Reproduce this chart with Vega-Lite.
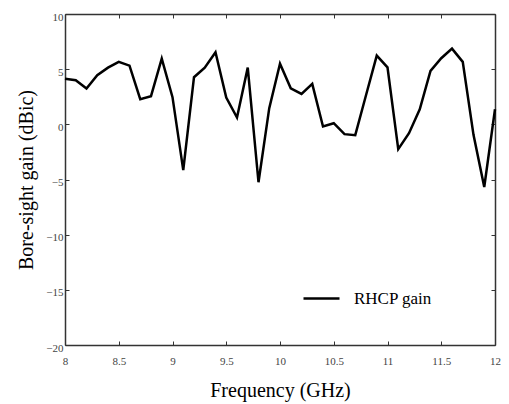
{
  "$schema": "https://vega.github.io/schema/vega-lite/v6.json",
  "width": 430,
  "height": 331,
  "autosize": "none",
  "padding": {"left": 65, "top": 14, "right": 14, "bottom": 59},
  "background": "white",
  "data": {"values": [
    {"f": 8.0, "g": 4.14, "s": "RHCP gain"},
    {"f": 8.1, "g": 4.0, "s": "RHCP gain"},
    {"f": 8.2, "g": 3.24, "s": "RHCP gain"},
    {"f": 8.3, "g": 4.45, "s": "RHCP gain"},
    {"f": 8.4, "g": 5.14, "s": "RHCP gain"},
    {"f": 8.5, "g": 5.66, "s": "RHCP gain"},
    {"f": 8.6, "g": 5.32, "s": "RHCP gain"},
    {"f": 8.7, "g": 2.28, "s": "RHCP gain"},
    {"f": 8.8, "g": 2.55, "s": "RHCP gain"},
    {"f": 8.9, "g": 5.95, "s": "RHCP gain"},
    {"f": 9.0, "g": 2.46, "s": "RHCP gain"},
    {"f": 9.1, "g": -4.15, "s": "RHCP gain"},
    {"f": 9.2, "g": 4.27, "s": "RHCP gain"},
    {"f": 9.3, "g": 5.14, "s": "RHCP gain"},
    {"f": 9.4, "g": 6.53, "s": "RHCP gain"},
    {"f": 9.5, "g": 2.43, "s": "RHCP gain"},
    {"f": 9.6, "g": 0.62, "s": "RHCP gain"},
    {"f": 9.7, "g": 5.14, "s": "RHCP gain"},
    {"f": 9.8, "g": -5.25, "s": "RHCP gain"},
    {"f": 9.9, "g": 1.47, "s": "RHCP gain"},
    {"f": 10.0, "g": 5.5, "s": "RHCP gain"},
    {"f": 10.1, "g": 3.27, "s": "RHCP gain"},
    {"f": 10.2, "g": 2.76, "s": "RHCP gain"},
    {"f": 10.3, "g": 3.67, "s": "RHCP gain"},
    {"f": 10.4, "g": -0.2, "s": "RHCP gain"},
    {"f": 10.5, "g": 0.1, "s": "RHCP gain"},
    {"f": 10.6, "g": -0.89, "s": "RHCP gain"},
    {"f": 10.7, "g": -0.98, "s": "RHCP gain"},
    {"f": 10.8, "g": 2.64, "s": "RHCP gain"},
    {"f": 10.9, "g": 6.23, "s": "RHCP gain"},
    {"f": 11.0, "g": 5.17, "s": "RHCP gain"},
    {"f": 11.1, "g": -2.25, "s": "RHCP gain"},
    {"f": 11.2, "g": -0.8, "s": "RHCP gain"},
    {"f": 11.3, "g": 1.37, "s": "RHCP gain"},
    {"f": 11.4, "g": 4.84, "s": "RHCP gain"},
    {"f": 11.5, "g": 5.99, "s": "RHCP gain"},
    {"f": 11.6, "g": 6.86, "s": "RHCP gain"},
    {"f": 11.7, "g": 5.66, "s": "RHCP gain"},
    {"f": 11.8, "g": -0.95, "s": "RHCP gain"},
    {"f": 11.9, "g": -5.68, "s": "RHCP gain"},
    {"f": 12.0, "g": 1.37, "s": "RHCP gain"}
  ]},
  "config": {
    "font": "Liberation Serif",
    "view": {"stroke": null},
    "axis": {
      "labelFont": "Liberation Serif",
      "labelFontSize": 11,
      "labelColor": "#444444",
      "titleFont": "Liberation Serif",
      "titleFontSize": 20,
      "titleFontWeight": "normal",
      "titleColor": "#000000",
      "domainColor": "#333333",
      "domainWidth": 1.5,
      "tickColor": "#333333",
      "tickWidth": 1,
      "tickSize": -4,
      "grid": false
    },
    "legend": {"labelFont": "Liberation Serif"}
  },
  "layer": [
    {
      "mark": {"type": "line", "strokeWidth": 2.5, "strokeJoin": "miter"},
      "encoding": {
        "x": {"field": "f", "type": "quantitative", "scale": {"domain": [8, 12], "nice": false, "zero": false},
              "axis": {"title": "Frequency (GHz)", "format": "~g", "values": [8, 8.5, 9, 9.5, 10, 10.5, 11, 11.5, 12], "labelPadding": 14, "titlePadding": 14, "labelFlush": false}},
        "y": {"field": "g", "type": "quantitative", "scale": {"domain": [-20, 10], "nice": false, "zero": false},
              "axis": {"title": "Bore-sight gain (dBic)", "values": [-20, -15, -10, -5, 0, 5, 10], "labelPadding": 6, "labelOffset": 3, "titlePadding": 9}},
        "color": {"field": "s", "type": "nominal", "scale": {"range": ["#000000"]},
                  "legend": {"title": null, "orient": "none", "legendX": 237, "legendY": 265, "symbolType": "stroke", "symbolSize": 1296, "symbolStrokeWidth": 2.5, "labelFont": "Liberation Serif", "labelFontSize": 17, "labelColor": "#000000", "labelOffset": 13}}
      }
    },
    {
      "mark": {"type": "line", "opacity": 0},
      "encoding": {
        "x": {"field": "f", "type": "quantitative", "scale": {"domain": [8, 12], "nice": false, "zero": false},
              "axis": {"orient": "top", "title": null, "labels": false, "values": [8, 8.5, 9, 9.5, 10, 10.5, 11, 11.5, 12]}},
        "y": {"field": "g", "type": "quantitative", "scale": {"domain": [-20, 10], "nice": false, "zero": false},
              "axis": {"orient": "right", "title": null, "labels": false, "values": [-20, -15, -10, -5, 0, 5, 10]}}
      }
    }
  ],
  "resolve": {"axis": {"x": "independent", "y": "independent"}}
}
